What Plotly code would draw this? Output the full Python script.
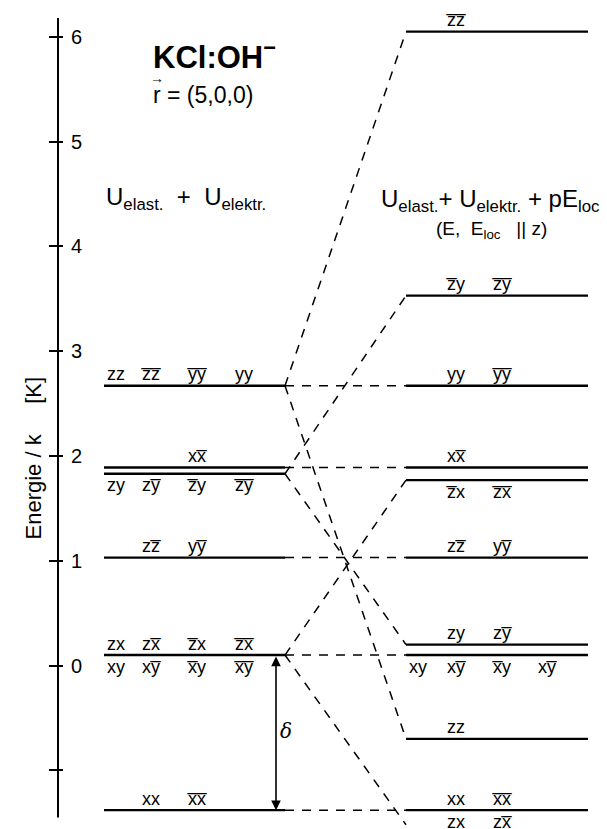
import plotly.graph_objects as go

# ---------------- data ----------------
tick_values = [-1, 0, 1, 2, 3, 4, 5, 6]
tick_labels = ["", "0", "1", "2", "3", "4", "5", "6"]
axis_bottom = -1.45  # lower end of the drawn energy axis

left_levels = [2.67, 1.89, 1.83, 1.03, 0.10, -1.38]
right_levels = [6.05, 3.53, 2.67, 1.89, 1.77, 1.03, 0.20, 0.10, -0.70, -1.38]

# dashed correlation lines: energy at left end -> energy at right end
conn_left = [2.67, 2.67, 2.67, 1.89, 1.83, 1.83, 1.03, 0.10, 0.10, 0.10, -1.38]
conn_right = [6.05, 2.67, -0.70, 1.89, 3.53, 0.20, 1.03, 1.77, 0.10, -1.52, -1.38]

B = "\u0305"  # combining overline
def bar(c):
    return c + B

left_label_text = ["zz", bar("z") + bar("z"), bar("y") + bar("y"), "yy",
                   "x" + bar("x"),
                   "zy", "z" + bar("y"), bar("z") + "y", bar("z") + bar("y"),
                   "z" + bar("z"), "y" + bar("y"),
                   "zx", "z" + bar("x"), bar("z") + "x", bar("z") + bar("x"),
                   "xy", "x" + bar("y"), bar("x") + "y", bar("x") + bar("y"),
                   "xx", bar("x") + bar("x")]
left_label_level = [2.67, 2.67, 2.67, 2.67,
                    1.89,
                    1.83, 1.83, 1.83, 1.83,
                    1.03, 1.03,
                    0.10, 0.10, 0.10, 0.10,
                    0.10, 0.10, 0.10, 0.10,
                    -1.38, -1.38]
left_label_side = ["a", "a", "a", "a",
                   "a",
                   "b", "b", "b", "b",
                   "a", "a",
                   "a", "a", "a", "a",
                   "b", "b", "b", "b",
                   "a", "a"]
left_label_col = [0, 1, 2, 3,
                  2,
                  0, 1, 2, 3,
                  1, 2,
                  0, 1, 2, 3,
                  0, 1, 2, 3,
                  1, 2]

right_label_text = [bar("z") + bar("z"),
                    bar("z") + "y", bar("z") + bar("y"),
                    "yy", bar("y") + bar("y"),
                    "x" + bar("x"),
                    bar("z") + "x", bar("z") + bar("x"),
                    "z" + bar("z"), "y" + bar("y"),
                    "zy", "z" + bar("y"),
                    "xy", "x" + bar("y"), bar("x") + "y", "x" + bar("y"),
                    "zz",
                    "xx", bar("x") + bar("x"),
                    "zx", "z" + bar("x")]
right_label_level = [6.05,
                     3.53, 3.53,
                     2.67, 2.67,
                     1.89,
                     1.77, 1.77,
                     1.03, 1.03,
                     0.20, 0.20,
                     0.10, 0.10, 0.10, 0.10,
                     -0.70,
                     -1.38, -1.38,
                     -1.38, -1.38]
right_label_side = ["a",
                    "a", "a",
                    "a", "a",
                    "a",
                    "b", "b",
                    "a", "a",
                    "a", "a",
                    "b", "b", "b", "b",
                    "a",
                    "a", "a",
                    "b", "b"]
right_label_col = [1,
                   1, 2,
                   1, 2,
                   1,
                   1, 2,
                   1, 2,
                   1, 2,
                   0, 1, 2, 3,
                   1,
                   1, 2,
                   1, 2]

delta_top = 0.10
delta_bottom = -1.38

# ---------------- layout constants (pixel-like x units) ----------------
W, H = 607, 829
AXIS_X = 58
LEFT_X0, LEFT_X1 = 104, 285
RIGHT_X0, RIGHT_X1 = 406, 588
left_cols = [116, 151, 197, 244]
right_cols = [418, 456, 502, 547]
PLOT_TOP, PLOT_BOTTOM = 18, 829
Y_RANGE = [-1.56, 6.18]
PX_PER_UNIT = (PLOT_BOTTOM - PLOT_TOP) / (Y_RANGE[1] - Y_RANGE[0])
ABOVE = 10 / PX_PER_UNIT
BELOW = -13 / PX_PER_UNIT

FONT = "Liberation Sans, Arial, sans-serif"
NB = "\u00a0"

def py_to_paper(py):
    return (PLOT_BOTTOM - py) / (PLOT_BOTTOM - PLOT_TOP)

fig = go.Figure()

# level lines
def level_trace(levels, x0, x1):
    xs, ys = [], []
    for v in levels:
        xs += [x0, x1, None]
        ys += [v, v, None]
    return go.Scatter(x=xs, y=ys, mode="lines",
                      line=dict(color="black", width=2.4),
                      hoverinfo="skip", showlegend=False)

fig.add_trace(level_trace(left_levels, LEFT_X0, LEFT_X1))
fig.add_trace(level_trace(right_levels, RIGHT_X0, RIGHT_X1))

# dashed connectors
cx, cy = [], []
for a, b in zip(conn_left, conn_right):
    cx += [LEFT_X1, RIGHT_X0, None]
    cy += [a, b, None]
fig.add_trace(go.Scatter(x=cx, y=cy, mode="lines",
                         line=dict(color="black", width=1.5, dash="9px,8px"),
                         hoverinfo="skip", showlegend=False))

# state labels
def label_trace(texts, levels, sides, cols, colx):
    xs = [colx[c] for c in cols]
    ys = [v + (ABOVE if s == "a" else BELOW) for v, s in zip(levels, sides)]
    return go.Scatter(x=xs, y=ys, mode="text", text=texts,
                      textposition="middle center",
                      textfont=dict(family=FONT, size=18, color="black"),
                      cliponaxis=False, hoverinfo="skip", showlegend=False)

fig.add_trace(label_trace(left_label_text, left_label_level, left_label_side,
                          left_label_col, left_cols))
fig.add_trace(label_trace(right_label_text, right_label_level, right_label_side,
                          right_label_col, right_cols))

# invisible trace on the second y axis (for crossing ticks)
fig.add_trace(go.Scatter(x=[LEFT_X0], y=[0], yaxis="y2", mode="markers",
                         marker=dict(opacity=0), hoverinfo="skip", showlegend=False))

# energy axis line
fig.add_shape(type="line", xref="paper", yref="y", x0=0, x1=0,
              y0=axis_bottom, y1=Y_RANGE[1], line=dict(color="black", width=2))

# delta arrow
fig.add_annotation(x=276, y=delta_bottom, ax=276, ay=delta_top,
                   xref="x", yref="y", axref="x", ayref="y",
                   text="", showarrow=True, arrowhead=2, arrowsize=1.2,
                   arrowwidth=1.6, arrowside="end+start", arrowcolor="black")
fig.add_annotation(x=286, y=(delta_top + delta_bottom) / 2 + 0.02, xref="x", yref="y",
                   text="<i>δ</i>", showarrow=False,
                   font=dict(family="DejaVu Serif, serif", size=20, color="black"))

# titles and headings
def ann(text, x, py, size, xref="x", **kw):
    fig.add_annotation(x=x, y=py_to_paper(py), xref=xref, yref="paper",
                       text=text, showarrow=False,
                       font=dict(family=FONT, size=size, color="#000000"), **kw)

ann("<b>KCl:OH<sup>−</sup></b>", 214, 33, 31)
ann("r = (5,0,0)", 203, 80, 23)
ann("→", 157, 68, 14)
ann("U<sub>elast.</sub>  +  U<sub>elektr.</sub>", 186, 181, 24)
ann("U<sub>elast.</sub>+ U<sub>elektr.</sub> + pE<sub>loc</sub>", 490, 183, 24)
ann("(E,  E<sub>loc</sub>   || z)", 491, 216, 19)
ann("Energie" + NB + "/" + NB + "k" + NB * 5 + "[K]",
    (19 - AXIS_X) / (W - AXIS_X), 458, 22, xref="paper", textangle=-90)

fig.update_layout(
    width=W, height=H,
    margin=dict(l=AXIS_X, r=0, t=PLOT_TOP, b=H - PLOT_BOTTOM),
    paper_bgcolor="white", plot_bgcolor="white",
    showlegend=False,
    xaxis=dict(range=[AXIS_X, W], visible=False, fixedrange=True),
    yaxis=dict(range=Y_RANGE, showgrid=False, zeroline=False,
               showline=False,
               ticks="outside", ticklen=8, tickwidth=2, tickcolor="black",
               tickvals=tick_values, ticktext=tick_labels,
               ticklabelposition="inside", ticklabelstandoff=10,
               tickfont=dict(family=FONT, size=20, color="black")),
    yaxis2=dict(range=Y_RANGE, overlaying="y", side="left", showgrid=False,
                zeroline=False, showline=False, ticks="inside", ticklen=5,
                tickwidth=2, tickcolor="black", tickvals=tick_values,
                showticklabels=False),
)

fig.write_html("out.html", post_script="document.body.style.margin='0px';",
               config={"displayModeBar": False})
